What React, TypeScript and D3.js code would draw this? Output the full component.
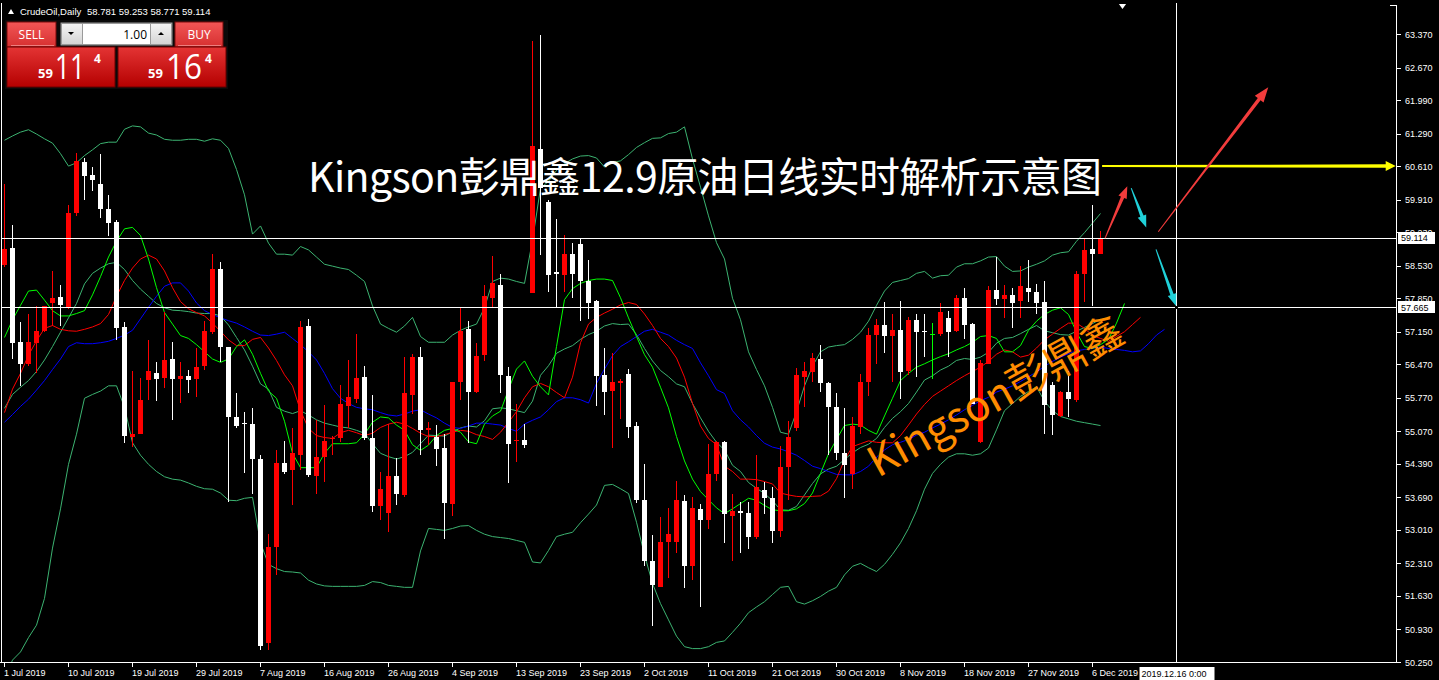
import React from 'react';
import * as d3 from 'd3';

const W = 1439;
const H = 680;

// ---------- data ----------
const priceTicks = [63.37, 62.67, 61.99, 61.29, 60.61, 59.91, 59.23, 58.53, 57.85, 57.15, 56.47, 55.77, 55.07, 54.39, 53.69, 53.01, 52.31, 51.63, 50.93, 50.25];
const dateLabels = ['1 Jul 2019', '10 Jul 2019', '19 Jul 2019', '29 Jul 2019', '7 Aug 2019', '16 Aug 2019', '26 Aug 2019', '4 Sep 2019', '13 Sep 2019', '23 Sep 2019', '2 Oct 2019', '11 Oct 2019', '21 Oct 2019', '30 Oct 2019', '8 Nov 2019', '18 Nov 2019', '27 Nov 2019', '6 Dec 2019'];
const barsPerLabel = 8;

const open = [58.54, 58.90, 56.93, 56.47, 56.92, 57.16, 57.75, 57.87, 57.66, 59.63, 60.69, 60.42, 60.24, 59.71, 59.44, 57.25, 54.96, 55.01, 56.15, 56.28, 56.19, 56.58, 56.17, 56.22, 56.17, 56.43, 57.14, 58.46, 56.83, 55.37, 55.25, 55.22, 54.49, 50.64, 52.66, 54.40, 54.27, 54.57, 57.28, 54.14, 54.53, 54.90, 54.94, 55.59, 55.74, 56.20, 54.92, 53.51, 53.36, 54.13, 53.73, 55.82, 56.63, 55.09, 54.96, 54.72, 53.56, 56.09, 57.20, 55.90, 56.67, 57.86, 58.13, 56.22, 54.86, 54.89, 57.95, 60.97, 59.87, 58.39, 58.33, 58.78, 58.99, 58.22, 57.79, 56.24, 55.92, 56.07, 56.26, 55.18, 53.64, 52.36, 51.82, 52.75, 52.76, 53.62, 52.25, 53.45, 53.22, 54.18, 54.84, 53.30, 53.41, 53.37, 52.87, 53.84, 53.67, 52.98, 54.32, 55.14, 56.21, 56.30, 56.58, 56.08, 55.57, 54.62, 54.17, 55.16, 56.10, 57.08, 57.29, 57.07, 57.18, 56.32, 57.40, 57.16, 57.10, 57.10, 57.44, 57.16, 57.85, 57.31, 54.85, 56.48, 58.02, 57.83, 57.92, 57.80, 58.07, 57.98, 57.77, 56.04, 55.39, 55.89, 55.72, 58.36, 58.87, 58.781];
const high = [60.24, 59.38, 57.35, 57.51, 57.68, 57.68, 58.41, 58.13, 59.79, 60.89, 60.78, 60.59, 60.86, 60.00, 59.48, 57.35, 56.32, 56.19, 56.98, 56.51, 57.57, 56.93, 56.51, 56.34, 56.81, 57.37, 58.77, 58.60, 56.84, 55.87, 55.48, 55.56, 54.57, 52.93, 54.68, 54.87, 55.14, 57.37, 57.42, 55.31, 55.61, 54.98, 56.04, 56.56, 57.10, 56.43, 55.82, 54.21, 55.22, 54.52, 56.63, 56.69, 56.84, 55.26, 55.20, 55.01, 56.11, 57.65, 57.37, 56.92, 58.13, 58.73, 58.36, 56.41, 55.65, 55.22, 63.23, 63.34, 59.91, 59.50, 59.18, 59.01, 59.10, 58.65, 57.82, 56.80, 56.71, 56.16, 56.37, 55.26, 54.38, 52.90, 53.27, 53.47, 54.03, 53.73, 53.70, 53.56, 54.81, 54.86, 54.86, 53.75, 53.60, 53.60, 54.57, 54.01, 53.90, 54.77, 55.28, 56.39, 56.51, 56.71, 56.88, 56.11, 55.86, 55.56, 55.37, 56.26, 57.22, 57.42, 57.77, 57.51, 57.80, 57.45, 57.51, 57.51, 57.33, 57.74, 57.59, 57.92, 58.07, 57.33, 56.55, 58.11, 58.72, 58.13, 58.07, 58.52, 58.65, 58.15, 58.20, 56.10, 55.91, 56.32, 58.41, 59.08, 59.79, 59.253];
const low = [58.50, 56.58, 56.02, 56.43, 56.28, 57.14, 57.27, 57.27, 57.63, 59.57, 59.90, 60.09, 59.53, 59.15, 56.98, 54.83, 54.74, 55.01, 55.72, 55.71, 55.98, 55.31, 55.67, 55.86, 55.78, 56.34, 57.10, 56.51, 53.60, 55.13, 54.19, 53.75, 50.50, 50.50, 52.07, 54.17, 53.52, 54.27, 54.12, 53.75, 54.01, 54.57, 54.84, 55.14, 55.66, 54.88, 53.39, 53.21, 52.96, 53.53, 53.69, 55.43, 54.58, 54.79, 54.35, 52.83, 53.30, 55.73, 54.83, 55.86, 56.54, 57.65, 55.88, 53.98, 54.43, 54.72, 57.95, 58.76, 57.99, 57.65, 57.97, 57.86, 57.37, 57.42, 55.60, 55.41, 54.72, 55.32, 54.92, 53.58, 52.25, 51.00, 51.81, 52.00, 52.53, 51.79, 51.96, 51.40, 53.02, 54.04, 52.74, 52.37, 52.52, 52.61, 52.83, 53.34, 52.74, 52.87, 53.63, 55.07, 55.57, 56.10, 55.89, 54.57, 54.47, 53.67, 53.86, 55.01, 55.80, 56.47, 56.71, 56.10, 55.74, 56.25, 56.21, 56.62, 56.17, 57.07, 56.62, 57.14, 56.99, 55.63, 54.82, 56.47, 57.70, 57.44, 57.22, 57.44, 57.77, 57.51, 55.01, 54.99, 55.37, 55.37, 55.69, 57.77, 57.68, 58.771];
const close = [58.87, 56.92, 56.47, 56.93, 57.16, 57.68, 57.85, 57.70, 59.63, 60.71, 60.41, 60.33, 59.71, 59.43, 57.23, 54.98, 55.01, 55.72, 56.32, 56.17, 56.56, 56.17, 56.22, 56.15, 56.41, 57.16, 58.46, 56.83, 55.37, 55.19, 55.22, 54.49, 50.59, 52.65, 54.40, 54.22, 54.61, 57.25, 54.16, 54.53, 54.87, 54.94, 55.65, 55.78, 56.19, 54.92, 53.50, 53.87, 54.13, 53.77, 55.86, 56.63, 55.09, 55.13, 54.69, 53.58, 56.09, 57.16, 55.90, 56.65, 57.90, 58.16, 56.24, 54.81, 54.89, 54.78, 61.02, 60.15, 58.33, 58.36, 58.78, 58.36, 58.20, 57.76, 56.22, 55.90, 56.09, 56.12, 55.15, 53.64, 52.36, 51.85, 52.76, 52.93, 53.64, 52.25, 53.47, 53.22, 54.18, 54.84, 53.34, 53.41, 53.37, 52.87, 53.90, 53.67, 52.98, 54.32, 54.96, 56.25, 56.32, 56.60, 56.08, 55.57, 54.62, 54.37, 55.19, 56.11, 57.08, 57.29, 57.07, 57.18, 56.30, 57.40, 57.14, 57.14, 57.10, 57.57, 57.14, 57.85, 57.29, 55.63, 56.50, 58.02, 57.83, 57.92, 57.75, 58.10, 57.98, 57.75, 55.61, 55.41, 55.89, 55.74, 58.35, 58.86, 58.77, 59.114];

// Bollinger bands
const bbUpper = [61.15, 61.24, 61.32, 61.37, 61.28, 61.18, 61.09, 60.87, 60.61, 60.68, 60.83, 60.95, 61.08, 61.11, 61.11, 61.38, 61.45, 61.43, 61.30, 61.26, 61.17, 61.15, 61.15, 61.17, 61.17, 61.13, 61.18, 61.15, 60.98, 60.54, 60.01, 59.19, 59.36, 59.00, 58.77, 58.77, 58.75, 58.93, 58.86, 58.71, 58.56, 58.52, 58.48, 58.45, 58.33, 58.20, 57.69, 57.31, 57.22, 57.14, 57.27, 57.45, 57.05, 56.93, 56.93, 56.93, 57.08, 57.18, 57.25, 57.31, 57.65, 58.20, 58.27, 58.25, 58.20, 58.16, 59.06, 60.15, 60.29, 60.52, 60.66, 60.76, 60.82, 60.83, 60.78, 60.59, 60.68, 60.72, 60.85, 61.00, 61.10, 61.19, 61.20, 61.29, 61.32, 61.43, 60.76, 60.17, 59.57, 59.01, 58.67, 57.85, 57.40, 56.73, 56.36, 56.02, 55.57, 55.05, 55.01, 55.48, 56.02, 56.43, 56.73, 56.83, 56.86, 56.88, 56.99, 57.14, 57.37, 57.70, 58.00, 58.18, 58.22, 58.26, 58.37, 58.41, 58.27, 58.32, 58.33, 58.50, 58.57, 58.57, 58.63, 58.71, 58.72, 58.52, 58.41, 58.42, 58.50, 58.56, 58.63, 58.75, 58.80, 58.82, 59.04, 59.22, 59.42, 59.62];
const bbMiddle = [55.55, 55.84, 55.99, 56.13, 56.32, 56.56, 56.84, 57.14, 57.44, 57.74, 58.15, 58.37, 58.48, 58.57, 58.60, 58.45, 58.22, 58.04, 57.89, 57.74, 57.65, 57.60, 57.59, 57.57, 57.54, 57.53, 57.53, 57.48, 57.29, 57.03, 56.77, 56.43, 56.06, 55.95, 55.57, 55.49, 55.44, 55.50, 55.41, 55.31, 55.24, 55.20, 55.16, 55.14, 55.09, 55.03, 54.81, 54.61, 54.54, 54.49, 54.54, 54.63, 54.81, 54.99, 54.98, 54.97, 55.06, 55.14, 55.18, 55.16, 55.29, 55.54, 55.56, 55.54, 55.50, 55.46, 55.70, 56.24, 56.44, 56.70, 56.79, 56.86, 56.99, 57.09, 57.16, 57.27, 57.32, 57.30, 57.31, 57.09, 56.80, 56.54, 56.34, 56.21, 56.06, 56.00, 55.65, 55.35, 55.07, 54.84, 54.68, 54.36, 54.23, 54.00, 53.88, 53.77, 53.62, 53.43, 53.42, 53.50, 53.74, 53.98, 54.18, 54.28, 54.34, 54.48, 54.62, 54.73, 54.80, 54.92, 55.15, 55.34, 55.48, 55.65, 55.89, 56.14, 56.23, 56.35, 56.43, 56.55, 56.59, 56.57, 56.62, 56.72, 56.91, 57.01, 57.03, 57.11, 57.20, 57.28, 57.17, 57.13, 57.09, 57.08, 57.16, 57.24, 57.32, 57.41];
const bbLower = [49.90, 50.29, 50.46, 50.76, 51.02, 51.58, 52.63, 53.45, 54.38, 55.01, 55.76, 55.84, 55.91, 56.02, 56.02, 55.57, 54.83, 54.57, 54.38, 54.23, 54.12, 54.07, 54.05, 53.99, 53.92, 53.87, 53.86, 53.78, 53.63, 53.62, 53.67, 53.69, 52.74, 52.29, 52.20, 52.14, 52.13, 52.11, 51.96, 51.88, 51.84, 51.83, 51.83, 51.83, 51.83, 51.85, 51.93, 51.91, 51.85, 51.83, 51.81, 51.81, 52.57, 53.04, 53.02, 53.00, 53.04, 53.09, 53.10, 53.00, 52.92, 52.87, 52.85, 52.83, 52.79, 52.75, 52.34, 52.32, 52.58, 52.87, 52.92, 52.96, 53.16, 53.34, 53.53, 53.94, 53.96, 53.87, 53.77, 53.17, 52.49, 51.89, 51.47, 51.13, 50.79, 50.57, 50.53, 50.53, 50.57, 50.66, 50.69, 50.87, 51.06, 51.28, 51.40, 51.51, 51.66, 51.81, 51.83, 51.51, 51.46, 51.53, 51.62, 51.73, 51.81, 52.07, 52.25, 52.31, 52.22, 52.14, 52.29, 52.50, 52.74, 53.04, 53.41, 53.86, 54.19, 54.38, 54.53, 54.60, 54.60, 54.57, 54.60, 54.72, 55.10, 55.50, 55.65, 55.80, 55.90, 56.00, 55.70, 55.50, 55.38, 55.33, 55.28, 55.25, 55.22, 55.19];

// Alligator lines (already shifted forward)
const lips = [57.03, 57.40, 57.70, 58.00, 58.02, 57.81, 57.59, 57.48, 57.48, 57.53, 57.59, 57.92, 58.30, 58.71, 59.04, 59.30, 59.33, 59.16, 58.67, 58.07, 57.55, 57.31, 57.07, 57.01, 56.88, 56.73, 56.58, 56.51, 56.58, 56.84, 56.98, 56.68, 56.28, 55.91, 55.76, 55.28, 54.61, 54.31, 54.31, 54.31, 54.61, 54.81, 54.81, 54.81, 54.83, 55.01, 55.26, 55.37, 55.35, 55.20, 55.09, 54.79, 54.67, 54.78, 54.98, 55.09, 55.13, 55.05, 54.85, 54.81, 55.22, 55.39, 55.49, 55.94, 56.37, 56.54, 56.22, 56.00, 55.83, 56.84, 57.82, 58.05, 58.16, 58.22, 58.25, 58.25, 58.22, 57.86, 57.44, 57.05, 56.67, 56.41, 55.99, 55.56, 54.96, 54.45, 54.07, 53.81, 53.64, 53.47, 53.35, 53.45, 53.56, 53.67, 53.63, 53.52, 53.43, 53.41, 53.41, 53.45, 53.56, 53.78, 54.19, 54.60, 54.90, 55.19, 55.22, 55.20, 55.09, 55.01, 55.39, 55.76, 56.13, 56.28, 56.41, 56.48, 56.56, 56.63, 56.69, 56.77, 56.84, 56.93, 57.05, 57.07, 57.01, 56.73, 56.73, 56.86, 57.18, 57.37, 57.51, 57.60, 57.65, 57.51, 57.14, 56.84, 56.80, 56.88, 56.99, 57.33, 57.74];
const teeth = [55.46, 55.95, 56.28, 56.66, 56.96, 57.22, 57.28, 57.20, 57.17, 57.16, 57.20, 57.25, 57.32, 57.51, 57.89, 58.22, 58.48, 58.67, 58.75, 58.67, 58.42, 58.07, 57.78, 57.63, 57.55, 57.48, 57.33, 57.16, 56.98, 56.86, 56.86, 56.99, 57.03, 56.81, 56.55, 56.25, 56.02, 55.50, 55.13, 54.98, 54.94, 54.92, 55.04, 55.09, 55.04, 54.98, 55.03, 55.15, 55.22, 55.26, 55.22, 55.13, 55.03, 54.96, 54.96, 55.00, 55.05, 55.09, 55.07, 55.00, 54.96, 54.90, 55.05, 55.26, 55.48, 55.77, 56.00, 56.07, 56.00, 55.88, 55.77, 56.20, 56.92, 57.31, 57.45, 57.54, 57.62, 57.71, 57.76, 57.72, 57.52, 57.28, 57.01, 56.84, 56.60, 56.20, 55.65, 55.18, 54.92, 54.79, 54.34, 54.23, 54.07, 54.07, 54.06, 54.02, 53.97, 53.78, 53.74, 53.71, 53.70, 53.71, 53.72, 53.82, 54.08, 54.47, 54.75, 54.81, 54.87, 54.84, 54.83, 54.83, 54.98, 55.20, 55.43, 55.63, 55.80, 55.91, 56.02, 56.13, 56.23, 56.32, 56.41, 56.53, 56.68, 56.77, 56.73, 56.62, 56.66, 56.81, 56.98, 57.10, 57.22, 57.33, 57.33, 57.22, 57.07, 57.01, 56.95, 57.05, 57.15, 57.30, 57.45];
const jaw = [55.26, 55.42, 55.59, 55.74, 55.93, 56.13, 56.36, 56.58, 56.84, 56.92, 56.90, 56.90, 56.92, 56.95, 57.01, 57.08, 57.18, 57.42, 57.66, 57.89, 58.10, 58.17, 58.17, 58.00, 57.75, 57.59, 57.51, 57.44, 57.38, 57.33, 57.25, 57.16, 57.08, 57.07, 57.10, 57.14, 57.01, 56.88, 56.73, 56.56, 56.28, 55.96, 55.76, 55.65, 55.57, 55.54, 55.52, 55.46, 55.41, 55.39, 55.43, 55.49, 55.52, 55.43, 55.35, 55.24, 55.15, 55.13, 55.18, 55.24, 55.24, 55.22, 55.20, 55.13, 55.07, 55.22, 55.30, 55.37, 55.52, 55.69, 55.77, 55.77, 55.73, 55.66, 56.07, 56.37, 56.65, 56.84, 56.94, 57.05, 57.16, 57.20, 57.14, 57.08, 56.97, 56.88, 56.80, 56.50, 56.23, 55.94, 55.86, 55.50, 55.31, 55.16, 54.98, 54.82, 54.74, 54.70, 54.64, 54.57, 54.46, 54.34, 54.29, 54.23, 54.17, 54.16, 54.16, 54.23, 54.34, 54.53, 54.68, 54.79, 54.84, 54.90, 54.99, 55.05, 55.14, 55.22, 55.31, 55.41, 55.52, 55.61, 55.71, 55.78, 55.89, 55.95, 56.02, 56.11, 56.21, 56.31, 56.43, 56.53, 56.62, 56.69, 56.75, 56.78, 56.80, 56.83, 56.80, 56.78, 56.76, 56.73, 56.75, 56.90, 57.08, 57.20];

// Drawn objects: [bar, price] endpoints
const redArrows = [
  [[137.56, 59.10], [140.35, 60.19]],
  [[144.22, 59.24], [157.97, 62.26]],
];
const cyanArrows = [
  [[140.84, 60.15], [142.72, 59.33]],
  [[143.94, 58.87], [146.44, 57.69]],
];
const yellowArrow = [[137.2, 60.61], [173.9, 60.61]];
const hLines = [59.114, 57.665];
const vLineBar = 146.5;
const vLineLabel = '2019.12.16 0:00';
const header = { symbol: 'CrudeOil,Daily', ohlc: '58.781 59.253 58.771 59.114' };
const title = 'Kingson彭鼎鑫12.9原油日线实时解析示意图';
const watermark = 'Kingson彭鼎鑫';

// ---------- layout ----------
const plotL = 1;
const plotR = 1396;
const plotT = 3;
const plotB = 662;
const AXIS_FONT = "'Liberation Sans', Arial, sans-serif";

const y = d3.scaleLinear().domain([50.25, 63.37]).range([662, 34]);
const x = d3.scaleLinear().domain([0, 1]).range([4.5, 12.5]);

const lineGen = d3.line<number>().x((_, i) => x(i)).y((d) => y(d));

function arrowPoly(p0: number[], p1: number[], w0: number, w1: number, hl: number, hw: number) {
  const x0 = x(p0[0]), y0 = y(p0[1]), x1 = x(p1[0]), y1 = y(p1[1]);
  const dx = x1 - x0, dy = y1 - y0;
  const len = Math.hypot(dx, dy);
  const ux = dx / len, uy = dy / len;
  const nx = -uy, ny = ux;
  const bx = x1 - ux * hl, by = y1 - uy * hl;
  const pts = [
    [x0 + nx * w0 / 2, y0 + ny * w0 / 2],
    [bx + nx * w1 / 2, by + ny * w1 / 2],
    [bx + nx * hw / 2, by + ny * hw / 2],
    [x1, y1],
    [bx - nx * hw / 2, by - ny * hw / 2],
    [bx - nx * w1 / 2, by - ny * w1 / 2],
    [x0 - nx * w0 / 2, y0 - ny * w0 / 2],
  ];
  return pts.map((p) => p.join(',')).join(' ');
}

function fmt(v: number) {
  return v.toFixed(3);
}

export default function App() {
  const candles = open.map((o, i) => {
    const c = close[i];
    const color = o === c ? '#00ff00' : c > o ? '#ff0000' : '#ffffff';
    const top = y(Math.max(o, c));
    const bot = y(Math.min(o, c));
    const cx = x(i);
    return (
      <g key={i}>
        <line x1={cx} x2={cx} y1={y(high[i])} y2={y(low[i])} stroke={color} strokeWidth={1} />
        <rect x={cx - 2.5} y={top} width={5} height={Math.max(1, bot - top)} fill={color} />
      </g>
    );
  });

  return (
    <svg width={W} height={H} style={{ position: 'fixed', left: 0, top: 0, display: 'block' }} xmlns="http://www.w3.org/2000/svg">
      <defs>
        <clipPath id="plot">
          <rect x={plotL + 1} y={plotT} width={plotR - plotL - 1} height={plotB - plotT} />
        </clipPath>
        <linearGradient id="gBox" x1="0" y1="0" x2="0" y2="1">
          <stop offset="0" stopColor="#e43434" />
          <stop offset="1" stopColor="#b40000" />
        </linearGradient>
        <linearGradient id="gBtn" x1="0" y1="0" x2="0" y2="1">
          <stop offset="0" stopColor="#f25656" />
          <stop offset="1" stopColor="#d63030" />
        </linearGradient>
        <linearGradient id="gSpin" x1="0" y1="0" x2="0" y2="1">
          <stop offset="0" stopColor="#f4f4f4" />
          <stop offset="1" stopColor="#d4d4d4" />
        </linearGradient>
      </defs>
      <rect x={0} y={0} width={W} height={H} fill="#000" />

      {/* chart frame */}
      <g shapeRendering="crispEdges" stroke="#fff" strokeWidth={1}>
        <line x1={plotL + 0.5} x2={plotL + 0.5} y1={plotT} y2={plotB} />
        <line x1={plotR + 0.5} x2={plotR + 0.5} y1={plotT + 2} y2={plotB + 1} />
        <line x1={plotR - 6} x2={plotR + 1} y1={plotT + 2.5} y2={plotT + 2.5} />
        <line x1={0} x2={plotR + 1} y1={plotB + 0.5} y2={plotB + 0.5} />
      </g>

      <g clipPath="url(#plot)">
        {/* Bollinger bands */}
        <g fill="none" stroke="#3cb371" strokeWidth={1}>
          <path d={lineGen(bbUpper) || ''} />
          <path d={lineGen(bbMiddle) || ''} />
          <path d={lineGen(bbLower) || ''} />
        </g>
        {/* Alligator */}
        <path d={lineGen(jaw) || ''} fill="none" stroke="#0000ff" strokeWidth={1} />
        <path d={lineGen(teeth) || ''} fill="none" stroke="#ff0000" strokeWidth={1} />
        <path d={lineGen(lips) || ''} fill="none" stroke="#00ff00" strokeWidth={1} />

        <g shapeRendering="crispEdges">{candles}</g>

        {/* horizontal & vertical lines */}
        <g shapeRendering="crispEdges" stroke="#fff" strokeWidth={1}>
          {hLines.map((v) => (
            <line key={v} x1={plotL} x2={plotR} y1={Math.round(y(v)) + 0.5} y2={Math.round(y(v)) + 0.5} />
          ))}
          <line x1={x(vLineBar)} x2={x(vLineBar)} y1={plotT} y2={plotB} />
        </g>
        <rect x={x(vLineBar) - 1.5} y={Math.round(y(hLines[1])) - 1} width={3} height={3} fill="#000" />

        {/* title */}
        <text x={308} y={192} fontSize={41} fill="#fff" textLength={794} lengthAdjust="spacing"
          fontFamily="'Noto Sans CJK SC', 'Noto Sans', sans-serif">{title}</text>

        {/* watermark */}
        <text transform="translate(878,478) rotate(-29)" fontSize={42} fill="#ff8c00"
          fontFamily="'Noto Sans CJK SC', 'Noto Sans', sans-serif">{watermark}</text>

        {/* arrows */}
        <polygon points={arrowPoly(yellowArrow[0], yellowArrow[1], 2, 3.5, 10, 10)} fill="#ffff00" />
        {redArrows.map((a, i) => (
          <polygon key={'r' + i} points={arrowPoly(a[0], a[1], 1, 3.5, i === 0 ? 12 : 15, i === 0 ? 9 : 11)} fill="#f23c3c" />
        ))}
        {cyanArrows.map((a, i) => (
          <polygon key={'c' + i} points={arrowPoly(a[0], a[1], 1, 3.5, 12, 9)} fill="#20d0d8" />
        ))}
        {/* chart shift marker */}
        <polygon points={`${x(139.3)},${plotT + 1} ${x(140.2)},${plotT + 1} ${x(139.75)},${plotT + 6}`} fill="#fff" />
      </g>

      {/* price axis */}
      <g fontFamily={AXIS_FONT} fontSize={9} fill="#fff">
        {priceTicks.map((v) => (
          <g key={v}>
            <line x1={plotR + 1} x2={plotR + 5} y1={Math.round(y(v)) + 0.5} y2={Math.round(y(v)) + 0.5} stroke="#fff" shapeRendering="crispEdges" />
            <text x={1405} y={y(v) + 3.5}>{fmt(v)}</text>
          </g>
        ))}
      </g>
      {hLines.map((v) => (
        <g key={'lab' + v} fontFamily={AXIS_FONT} fontSize={9}>
          <rect x={1398} y={Math.round(y(v)) - 6} width={37} height={12} fill="#fff" shapeRendering="crispEdges" />
          <text x={1401} y={y(v) + 3.5} fill="#000">{fmt(v)}</text>
        </g>
      ))}

      {/* time axis */}
      <g fontFamily={AXIS_FONT} fontSize={9} fill="#fff">
        {dateLabels.map((d, k) => {
          const bx = x(k * barsPerLabel);
          return (
            <g key={d}>
              <line x1={bx} x2={bx} y1={plotB + 1} y2={plotB + 5} stroke="#fff" shapeRendering="crispEdges" />
              <text x={bx - 0.5} y={676}>{d}</text>
            </g>
          );
        })}
      </g>
      <g fontFamily={AXIS_FONT} fontSize={9}>
        <rect x={x(vLineBar) - 37} y={667} width={75} height={13} fill="#fff" />
        <text x={x(vLineBar) - 35} y={677} fill="#000">{vLineLabel}</text>
      </g>

      {/* header */}
      <g fontFamily={AXIS_FONT} fontSize={9.5} fill="#fff">
        <polygon points="8,14 14,14 11,9" fill="#fff" />
        <text x={20} y={15}>{header.symbol}</text>
        <text x={87} y={15}>{header.ohlc}</text>
      </g>

      {/* one-click trading panel */}
      <g>
        <rect x={5} y={20} width={223} height={69} fill="#0a0a0a" />
        {/* left */}
        <rect x={7} y={22} width={49} height={25} fill="url(#gBtn)" stroke="#7a0a0a" />
        <line x1={11} x2={54} y1={45.5} y2={45.5} stroke="#f7a0a0" strokeWidth={1} opacity={0.7} />
        <text x={31.5} y={39} fontSize={12} fill="#fff" textAnchor="middle" fontFamily="'Open Sans', sans-serif">SELL</text>
        <rect x={7} y={47} width={108} height={40} fill="url(#gBox)" stroke="#6a0000" />
        <text x={38} y={78} fontSize={13} fontWeight="bold" fill="#fff" fontFamily="'Open Sans', sans-serif">59</text>
        <text x={55} y={79} fontSize={34} fill="#fff" textLength={30} lengthAdjust="spacingAndGlyphs" fontFamily="'Open Sans', sans-serif">11</text>
        <text x={94} y={63} fontSize={12} fontWeight="bold" fill="#fff" fontFamily="'Open Sans', sans-serif">4</text>
        {/* spinner */}
        <rect x={60.5} y={22.5} width={112} height={23} fill="#9a9a9a" />
        <rect x={62} y={24} width={20} height={20} fill="url(#gSpin)" />
        <polygon points="68,32 74,32 71,35" fill="#000" />
        <rect x={83} y={24} width={67} height={20} fill="#fff" />
        <text x={147} y={39} fontSize={12} fill="#000" textAnchor="end" fontFamily="'Open Sans', sans-serif">1.00</text>
        <rect x={151} y={24} width={20} height={20} fill="url(#gSpin)" />
        <polygon points="158,35 164,35 161,32" fill="#000" />
        {/* right */}
        <rect x={175} y={22} width={48} height={25} fill="url(#gBtn)" stroke="#7a0a0a" />
        <line x1={178} x2={221} y1={45.5} y2={45.5} stroke="#f7a0a0" strokeWidth={1} opacity={0.7} />
        <text x={199} y={39} fontSize={12} fill="#fff" textAnchor="middle" fontFamily="'Open Sans', sans-serif">BUY</text>
        <rect x={118} y={47} width={108} height={40} fill="url(#gBox)" stroke="#6a0000" />
        <text x={148} y={78} fontSize={13} fontWeight="bold" fill="#fff" fontFamily="'Open Sans', sans-serif">59</text>
        <text x={166} y={79} fontSize={34} fill="#fff" textLength={36} lengthAdjust="spacingAndGlyphs" fontFamily="'Open Sans', sans-serif">16</text>
        <text x={205} y={63} fontSize={12} fontWeight="bold" fill="#fff" fontFamily="'Open Sans', sans-serif">4</text>
      </g>
    </svg>
  );
}
